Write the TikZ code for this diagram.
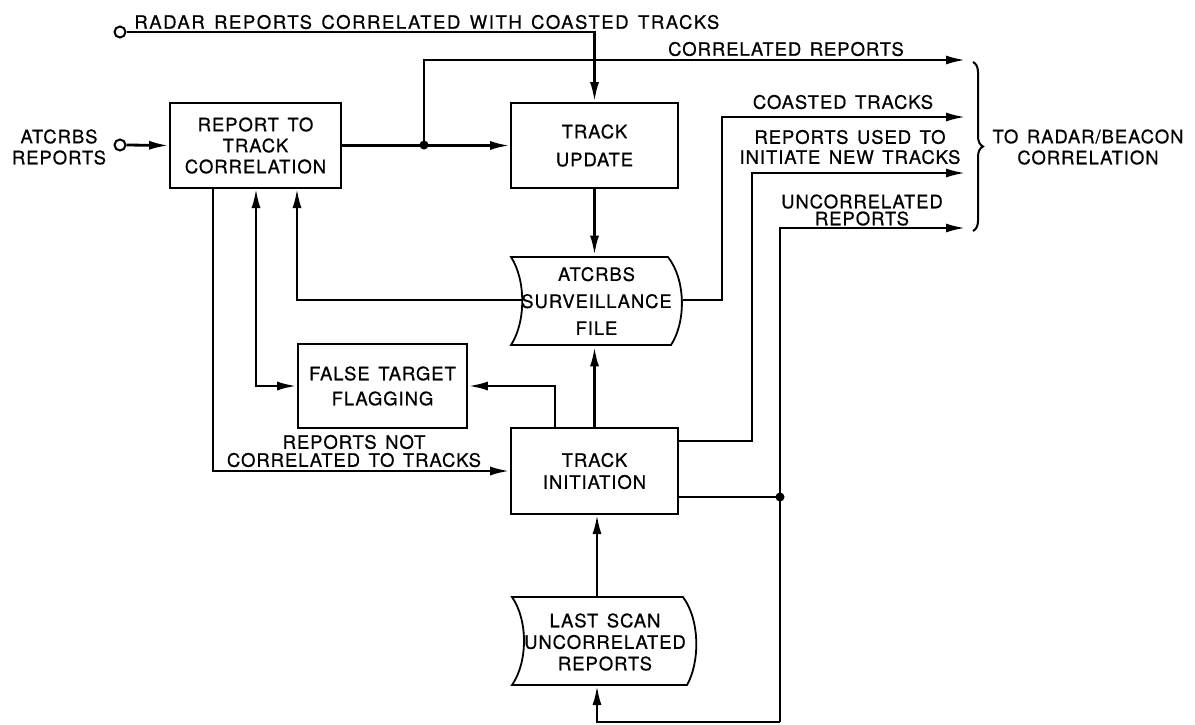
\documentclass[tikz,border=0pt]{standalone}
\usepackage{fontspec}
\setmainfont{TeX Gyre Heros}[LetterSpace=5,WordSpace=1.4,FakeBold=0.6]
\usetikzlibrary{arrows.meta,decorations.pathreplacing}
\begin{document}
\begin{tikzpicture}[x=1pt,y=-1pt,
  font=\fontsize{18.5}{21}\selectfont,
  line width=2.8pt, line join=miter,
  arr/.style={-{Latex[length=20pt,width=9pt]}},
  darr/.style={{Latex[length=20pt,width=9pt]}-{Latex[length=20pt,width=9pt]}},
  box/.style={draw, line width=1.8pt, inner sep=0pt, align=center},
  lbl/.style={inner sep=0pt, align=center},
  term/.style={circle, draw, line width=2pt, fill=white, minimum size=11pt, inner sep=0pt},
  junct/.style={circle, fill=black, minimum size=9pt, inner sep=0pt},
  filebox/.style={inner sep=0pt, align=center}]
\useasboundingbox[fill=white] (0,0) rectangle (1195,724);

% boxes
\node[box, minimum width=171pt, minimum height=85pt, font=\fontsize{18.5}{21}\selectfont] (rtc) at (255.5,145.5) {REPORT TO\\TRACK\\CORRELATION};
\node[box, minimum width=167pt, minimum height=85pt, font=\fontsize{18.5}{28}\selectfont] (tu) at (594.5,145.5) {\raisebox{2pt}{\parbox{5cm}{\centering TRACK\\UPDATE}}};
\node[box, minimum width=169pt, minimum height=84pt, font=\fontsize{18.5}{25}\selectfont] (ftf) at (382.5,386) {FALSE TARGET\\FLAGGING};
\node[box, minimum width=167pt, minimum height=86pt, font=\fontsize{18.5}{22}\selectfont] (ti) at (594.5,471) {\raisebox{7pt}{\parbox{5cm}{\centering TRACK\\INITIATION}}};

% files
\node[filebox, minimum width=171pt, minimum height=88pt, font=\fontsize{18.5}{27}\selectfont] (sf) at (596.5,301) {ATCRBS\\SURVEILLANCE\\FILE};
\draw[line width=1.8pt] (511,257) -- (668,257) .. controls (686,280) and (686,322) .. (671,345)
  -- (511,345) .. controls (526,322) and (526,280) .. (511,257) -- cycle;
\node[filebox, minimum width=185pt, minimum height=88pt, font=\fontsize{18.5}{21.5}\selectfont] (ls) at (605,642) {LAST SCAN\\UNCORRELATED\\REPORTS};
\draw[line width=1.8pt] (512,597) -- (683,597) .. controls (700,620) and (700,662) .. (687,685)
  -- (512,685) .. controls (528,662) and (528,620) .. (512,597) -- cycle;
\coordinate (sfw) at (522,300);

% terminals and junctions
\node[term] (cradar) at (120,32) {};
\node[term] (catc) at (120,145) {};
\node[junct] (j1) at (424,145) {};
\node[junct] (j2) at (780,497) {};

% outputs
\coordinate (oCR) at (966,60);
\coordinate (oCT) at (966,117);
\coordinate (oRU) at (966,173);
\coordinate (oUR) at (966,228);

% connectors
\draw[arr] (cradar.east) -| (tu.north);
\draw[arr] (catc.east) -- (rtc.west);
\draw[arr] (rtc.east) -- (tu.west);
\draw[arr] (j1.center) |- (oCR);
\draw[arr] (tu.south) -- (tu.south |- sf.north);
\draw[arr] (sf.east |- 0,300) -- (722,300) |- (oCT);
\draw[arr] (sfw) -| (297,188);
\draw[darr] (256,188) |- (ftf.west);
\draw[arr] (555,428) |- (ftf.east);
\draw[arr] (ti.north) -- (ti.north |- sf.south);
\draw[arr] (213,188) |- (ti.west);
\draw[arr] (678,441) -- (752,441) |- (oRU);
\draw (678,497) -- (j2.center);
\draw[arr] (780,722) -- (780,228) -- (oUR);
\draw[arr] (780,722) -| (597,685);
\draw[arr] (597,597) -- (597,514);

% brace
\draw[line width=2pt, decorate, decoration={brace, amplitude=10pt}] (973,62) -- (973,231);

% labels
\node[lbl, anchor=west, font=\fontsize{18.5}{21}\addfontfeature{LetterSpace=8.5}\selectfont] (tRadar) at (133,22) {RADAR REPORTS CORRELATED WITH COASTED TRACKS};
\node[lbl] (tAtc) at (59,147) {ATCRBS\\REPORTS};
\node[lbl] (tCR) at (786,49) {CORRELATED REPORTS};
\node[lbl] (tCT) at (843,102) {COASTED TRACKS};
\node[lbl, font=\fontsize{18.5}{20}\selectfont] (tRU) at (850,147) {REPORTS USED TO\\INITIATE NEW TRACKS};
\node[lbl, font=\fontsize{18.5}{17}\selectfont] (tUR) at (862,210) {UNCORRELATED\\REPORTS};
\node[lbl, font=\fontsize{18.5}{18}\selectfont] (tRN) at (354,451) {REPORTS NOT\\CORRELATED TO TRACKS};
\node[lbl, font=\fontsize{18.5}{21}\selectfont] (tTo) at (1088,147) {TO RADAR/BEACON\\CORRELATION};
\end{tikzpicture}
\end{document}
